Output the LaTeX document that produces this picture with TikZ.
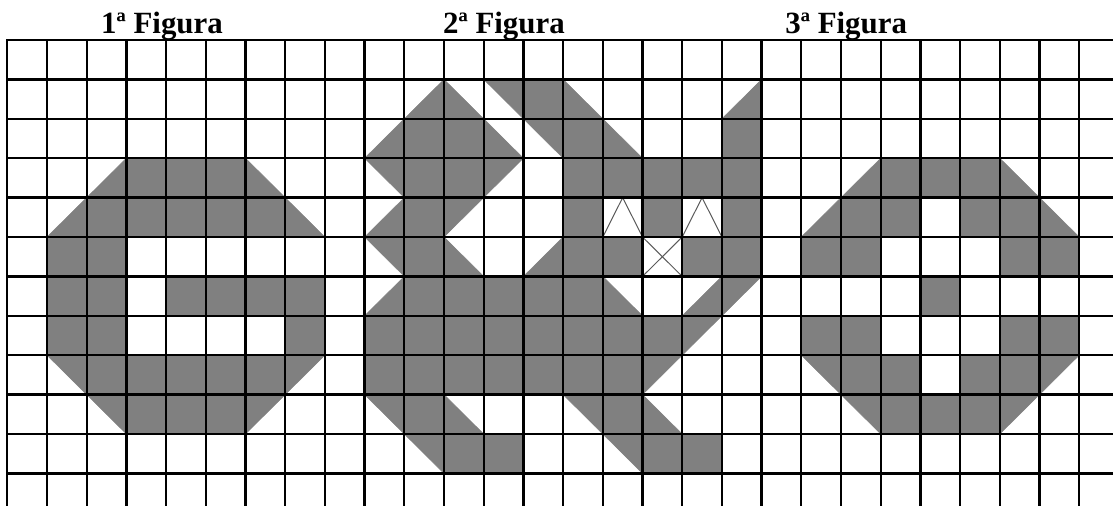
\documentclass[tikz,border=0pt]{standalone}
\usepackage{fontspec}
\setmainfont{Liberation Serif}
\definecolor{cellgray}{RGB}{128,128,128}
\definecolor{sketchgray}{RGB}{90,90,90}
\tikzset{
  cellfill/.style={fill=cellgray, draw=cellgray, line width=0.5bp},
  gridline/.style={draw=black, line width=2.3bp, line cap=rect},
  facesketch/.style={draw=sketchgray, line width=1bp, line join=miter},
  figtitle/.style={anchor=base, inner sep=0pt, font=\fontsize{31}{37}\selectfont\bfseries}
}
\newcommand{\gfull}[2]{\path[cellfill] (#1,#2) rectangle ++(1,1);}
\newcommand{\gUL}[2]{\path[cellfill] (#1,#2) -- ++(1,0) -- ++(-1,1) -- cycle;}
\newcommand{\gUR}[2]{\path[cellfill] (#1,#2) -- ++(1,0) -- ++(0,1) -- cycle;}
\newcommand{\gLL}[2]{\path[cellfill] (#1,#2) -- ++(0,1) -- ++(1,0) -- cycle;}
\newcommand{\gLR}[2]{\path[cellfill] ({#1+1},#2) -- ++(0,1) -- ++(-1,0) -- cycle;}
\newcommand{\grow}[2]{\foreach \cc in {#2} {\gfull{\cc}{#1}}}
\begin{document}
\begin{tikzpicture}[x=39.7bp, y=-39.4bp]
\useasboundingbox (-0.1839,-1.0152) rectangle (27.851,11.827);
% ---------- 1a Figura ----------
\gLR{2}{3} \grow{3}{3,4,5} \gLL{6}{3}
\gLR{1}{4} \grow{4}{2,3,4,5,6} \gLL{7}{4}
\grow{5}{1,2}
\grow{6}{1,2,4,5,6,7}
\grow{7}{1,2,7}
\gUR{1}{8} \grow{8}{2,3,4,5,6} \gUL{7}{8}
\gUR{2}{9} \grow{9}{3,4,5} \gUL{6}{9}
% ---------- 2a Figura ----------
\gLR{10}{1} \gLL{11}{1} \gUR{12}{1} \gfull{13}{1} \gLL{14}{1} \gLR{18}{1}
\gLR{9}{2} \grow{2}{10,11} \gLL{12}{2} \gUR{13}{2} \gfull{14}{2} \gLL{15}{2} \gfull{18}{2}
\gUR{9}{3} \grow{3}{10,11} \gUL{12}{3} \grow{3}{14,15,16,17,18}
\gLR{9}{4} \gfull{10}{4} \gUL{11}{4} \grow{4}{14,16,18}
\gUR{9}{5} \gfull{10}{5} \gLL{11}{5} \gLR{13}{5} \grow{5}{14,15,17,18}
\gLR{9}{6} \grow{6}{10,11,12,13,14} \gLL{15}{6} \gLR{17}{6} \gUL{18}{6}
\grow{7}{9,10,11,12,13,14,15,16} \gUL{17}{7}
\grow{8}{9,10,11,12,13,14,15} \gUL{16}{8}
\gUR{9}{9} \gfull{10}{9} \gLL{11}{9} \gUR{14}{9} \gfull{15}{9} \gLL{16}{9}
\gUR{10}{10} \grow{10}{11,12} \gUR{15}{10} \grow{10}{16,17}
% ---------- 3a Figura ----------
\gLR{21}{3} \grow{3}{22,23,24} \gLL{25}{3}
\gLR{20}{4} \grow{4}{21,22,24,25} \gLL{26}{4}
\grow{5}{20,21,25,26}
\gfull{23}{6}
\grow{7}{20,21,25,26}
\gUR{20}{8} \grow{8}{21,22,24,25} \gUL{26}{8}
\gUR{21}{9} \grow{9}{22,23,24} \gUL{25}{9}
% ---------- face sketches ----------
\draw[facesketch] (15,5) -- (15.5,4) -- (16,5);
\draw[facesketch] (17,5) -- (17.5,4) -- (18,5);
\draw[facesketch] (16,5) -- (17,6);
\draw[facesketch] (17,5) -- (16,6);
% ---------- grid ----------
\foreach \i in {0,...,27} {\draw[gridline] (\i,0) -- (\i,11.9);}
\foreach \j in {0,...,11} {\draw[gridline] (0,\j) -- (27.9,\j);}
% ---------- titles ----------
\node[figtitle] (t1) at (3.897,-0.17) {1ª Figura};
\node[figtitle] (t2) at (12.51,-0.17) {2ª Figura};
\node[figtitle] (t3) at (21.13,-0.17) {3ª Figura};
\end{tikzpicture}
\end{document}
